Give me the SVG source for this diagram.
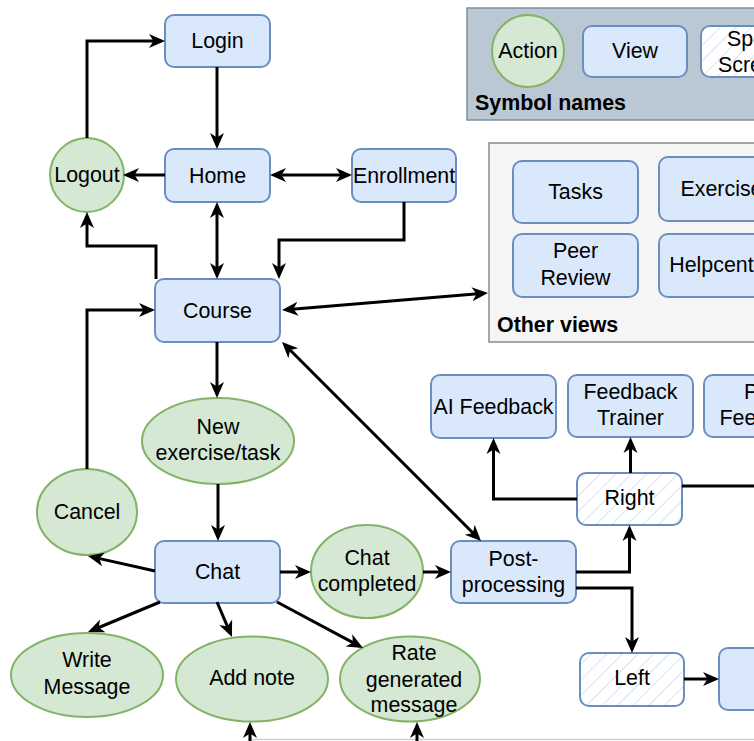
<svg xmlns="http://www.w3.org/2000/svg" width="754" height="741" viewBox="0 0 754 741">
<defs>
<style>
text{font-family:"Liberation Sans",Arial,Helvetica,sans-serif;font-size:21.4px;fill:#000;text-anchor:middle}
.b{font-weight:bold;text-anchor:start}
.st{text-anchor:start}
.view{fill:#dae8fc;stroke:#6c8ebf;stroke-width:2}
.act{fill:#d5e8d4;stroke:#82b366;stroke-width:2}
.c{fill:none;stroke:#000;stroke-width:3}
.e{marker-end:url(#arr)}
.s{marker-start:url(#arr)}
</style>
<marker id="arr" markerUnits="userSpaceOnUse" markerWidth="17" markerHeight="17" viewBox="0 0 17 17" refX="12" refY="8.5" orient="auto-start-reverse">
<path d="M0,1.5 L16,8.5 L0,15.5 L4.5,8.5 z" fill="#000"/>
</marker>
<pattern id="hatchlines" patternUnits="userSpaceOnUse" width="11" height="11" patternTransform="rotate(45)">
<rect width="11" height="11" fill="#fff"/>
<line x1="0" y1="0" x2="0" y2="11" stroke="#c8dbf5" stroke-width="1.5"/>
</pattern>
</defs>
<rect width="754" height="741" fill="#fff"/>

<g id="symbol-names">
<rect x="467" y="8" width="300" height="112" fill="#bac8d3" stroke="#7d8d99" stroke-width="1.5"/>
<text class="b" x="475" y="110">Symbol names</text>
</g>
<g id="legend-action">
<circle class="act" cx="528" cy="51" r="36"/>
<text x="528" y="58">Action</text>
</g>
<g id="legend-view">
<rect class="view" x="583" y="26" width="104" height="51" rx="9"/>
<text x="635" y="58">View</text>
</g>
<g id="legend-special">
<rect x="701" y="26" width="104" height="51" rx="9" fill="url(#hatchlines)" stroke="#6c8ebf" stroke-width="2"/>
<text class="st" x="727" y="46">Special</text>
<text class="st" x="718" y="72">Screen</text>
</g>

<g id="other-views">
<rect x="489" y="143" width="290" height="199" fill="#f5f5f5" stroke="#8a8a8a" stroke-width="1.5"/>
<text class="b" x="497" y="332">Other views</text>
</g>
<g id="tasks">
<rect class="view" x="513" y="161" width="125" height="62" rx="9"/>
<text x="575.5" y="199">Tasks</text>
</g>
<g id="exercise">
<rect class="view" x="659" y="157" width="125" height="64" rx="9"/>
<text x="721.5" y="196">Exercise</text>
</g>
<g id="peer-review">
<rect class="view" x="513" y="234" width="125" height="63" rx="9"/>
<text x="575.5" y="258">Peer</text>
<text x="575.5" y="285">Review</text>
</g>
<g id="helpcenter">
<rect class="view" x="659" y="234" width="125" height="63" rx="9"/>
<text x="721" y="272">Helpcenter</text>
</g>

<g id="login">
<rect class="view" x="165" y="15" width="105" height="52" rx="9"/>
<text x="217.5" y="48">Login</text>
</g>
<g id="home">
<rect class="view" x="165" y="149" width="105" height="53" rx="9"/>
<text x="217.5" y="183">Home</text>
</g>
<g id="enrollment">
<rect class="view" x="352" y="149" width="104" height="53" rx="9"/>
<text x="404" y="183">Enrollment</text>
</g>
<g id="logout">
<circle class="act" cx="87" cy="175" r="37"/>
<text x="87" y="182">Logout</text>
</g>
<g id="course">
<rect class="view" x="155" y="279" width="125" height="63" rx="9"/>
<text x="217.5" y="318">Course</text>
</g>
<g id="new-exercise">
<ellipse class="act" cx="218" cy="441" rx="76" ry="43"/>
<text x="218" y="434">New</text>
<text x="218" y="460">exercise/task</text>
</g>
<g id="cancel">
<ellipse class="act" cx="87" cy="512" rx="50" ry="43"/>
<text x="87" y="519">Cancel</text>
</g>
<g id="chat">
<rect class="view" x="155" y="541" width="125" height="62" rx="9"/>
<text x="217.5" y="579">Chat</text>
</g>
<g id="chat-completed">
<ellipse class="act" cx="367" cy="571.5" rx="56" ry="46.5"/>
<text x="367" y="565">Chat</text>
<text x="367" y="591">completed</text>
</g>
<g id="post-processing">
<rect class="view" x="451" y="541" width="125" height="62" rx="9"/>
<text x="513.5" y="566">Post-</text>
<text x="513.5" y="592">processing</text>
</g>
<g id="ai-feedback">
<rect class="view" x="431" y="375" width="125" height="63" rx="9"/>
<text x="493.5" y="414">AI Feedback</text>
</g>
<g id="feedback-trainer">
<rect class="view" x="568" y="375" width="125" height="62" rx="9"/>
<text x="630.5" y="399">Feedback</text>
<text x="630.5" y="425">Trainer</text>
</g>
<g id="peer-feedback">
<rect class="view" x="704" y="375" width="125" height="62" rx="9"/>
<text x="766.5" y="399">Peer</text>
<text x="766.5" y="425">Feedback</text>
</g>
<g id="right">
<rect x="577" y="473" width="105" height="52" rx="9" fill="url(#hatchlines)" stroke="#6c8ebf" stroke-width="2"/>
<text x="629.5" y="505">Right</text>
</g>
<g id="left">
<rect x="580" y="653" width="104" height="53" rx="9" fill="url(#hatchlines)" stroke="#6c8ebf" stroke-width="2"/>
<text x="632" y="685">Left</text>
</g>
<g id="next-view">
<rect class="view" x="719" y="648" width="125" height="62" rx="9"/>
</g>
<g id="write-message">
<ellipse class="act" cx="87" cy="675" rx="76" ry="42"/>
<text x="87" y="667">Write</text>
<text x="87" y="694">Message</text>
</g>
<g id="add-note">
<ellipse class="act" cx="252" cy="679" rx="76" ry="42.5"/>
<text x="252" y="685">Add note</text>
</g>
<g id="rate-message">
<ellipse class="act" cx="410" cy="679" rx="70" ry="42.5"/>
<text x="414" y="660">Rate</text>
<text x="414" y="687">generated</text>
<text x="414" y="712">message</text>
</g>
<g id="bottom-container">
<line x1="248" y1="739.5" x2="754" y2="739.5" stroke="#d0d0d0" stroke-width="1.5"/>
</g>

<g id="connectors">
<path class="c e" d="M87,138 V41 H161"/>
<path class="c e" d="M217,67 V145"/>
<path class="c e" d="M165,175 H127"/>
<path class="c s e" d="M274,175 H348"/>
<path class="c s e" d="M217,206 V275"/>
<path class="c e" d="M156,279 V246 H87 V216"/>
<path class="c e" d="M404,202 V240 H279 V275"/>
<path class="c s e" d="M286,309.7 L484,293.3"/>
<path class="c e" d="M87,469 V310 H151"/>
<path class="c e" d="M217,342 V394"/>
<path class="c e" d="M218,484 V537"/>
<path class="c e" d="M155,571 L91.9,556.9"/>
<path class="c e" d="M280,572 H307"/>
<path class="c e" d="M423,572 H447"/>
<path class="c s e" d="M284.8,344.8 L478.2,538.2"/>
<path class="c e" d="M576,572 H629.5 V529"/>
<path class="c e" d="M576,588 H632 V649"/>
<path class="c e" d="M684,679 H715"/>
<path class="c e" d="M577,499 H493.5 V442"/>
<path class="c e" d="M630.5,473 V441"/>
<path class="c" d="M682,486 H756"/>
<path class="c e" d="M160,602 L91.7,630.5"/>
<path class="c e" d="M217,602 L230.4,633.3"/>
<path class="c e" d="M277,602 L359.5,646.1"/>
<path class="c e" d="M250,745 V726"/>
<path class="c e" d="M417,745 V726"/>
</g>
</svg>
